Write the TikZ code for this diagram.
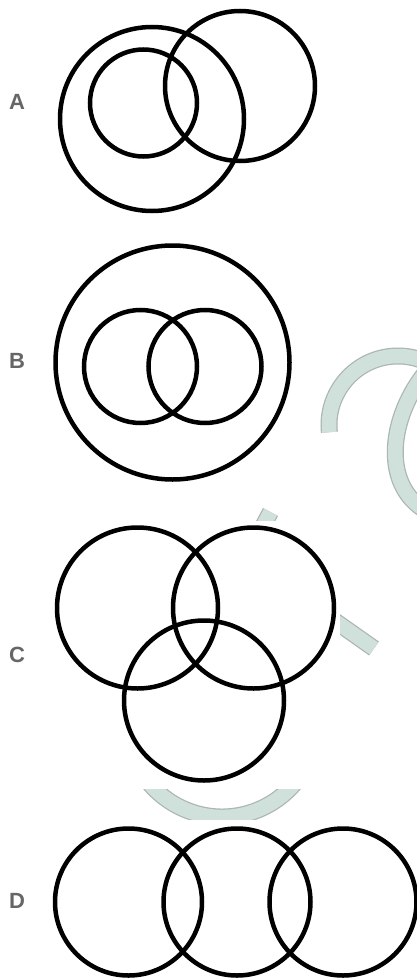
\documentclass[tikz,border=0pt]{standalone}
\usepackage{fontspec}
\setmainfont{Liberation Sans}
\definecolor{wmfill}{RGB}{208,225,220}
\definecolor{wmedge}{RGB}{172,182,179}
\definecolor{labgrey}{RGB}{102,102,102}
\tikzset{
  ring/.style={draw=black, line width=4.5pt},
  lab/.style={text=labgrey, font=\fontsize{22}{22}\selectfont\bfseries, inner sep=0pt, anchor=center},
  wmedgeband/.style={draw=wmedge, line width=17pt, line cap=butt},
  wmband/.style={draw=wmfill, line width=14.5pt, line cap=butt},
  panel/.style={fill=white, draw=none}
}
\begin{document}
\begin{tikzpicture}[x=1pt,y=-1pt]
\useasboundingbox (0,0) rectangle (417,979);
\clip (0,0) rectangle (417,979);
\fill[white] (0,0) rectangle (417,979);
% watermark fragments
\foreach \st in {wmedgeband,wmband}{
  \draw[\st] (398,425) ++(174:69) arc[start angle=174, end angle=305, radius=69];
  \draw[\st] (432,365) .. controls (390,410) and (378,485) .. (428,512);
  \draw[\st] (270.5,512) -- (251.7,547.3);
  \draw[\st] (374,648.5) -- (325,614);
  \draw[\st] (222,722) ++(20:95) arc[start angle=20, end angle=160, radius=95];
}
% white panels hiding the watermark
\fill[panel] (0,521) rectangle (340,789);
\fill[panel] (0,820) rectangle (417,979);
% A
\draw[ring] (152,119) circle[radius=92];
\draw[ring] (143.5,103) circle[radius=53.5];
\draw[ring] (240,86) circle[radius=75];
% B
\draw[ring] (172.5,362.5) circle[radius=117];
\draw[ring] (140.5,366.5) circle[radius=56.5];
\draw[ring] (205,366.5) circle[radius=56.5];
% C
\draw[ring] (137.5,608) circle[radius=80.5];
\draw[ring] (253.5,608) circle[radius=80.5];
\draw[ring] (204,700.5) circle[radius=80];
% D
\draw[ring] (128.5,902) circle[radius=73.5];
\draw[ring] (237,902) circle[radius=73.5];
\draw[ring] (343,902) circle[radius=73.5];
% labels
\node[lab] (la) at (17,101.5) {A};
\node[lab] (lb) at (17,361) {B};
\node[lab] (lc) at (17,654.5) {C};
\node[lab] (ld) at (17,901) {D};
\end{tikzpicture}
\end{document}
